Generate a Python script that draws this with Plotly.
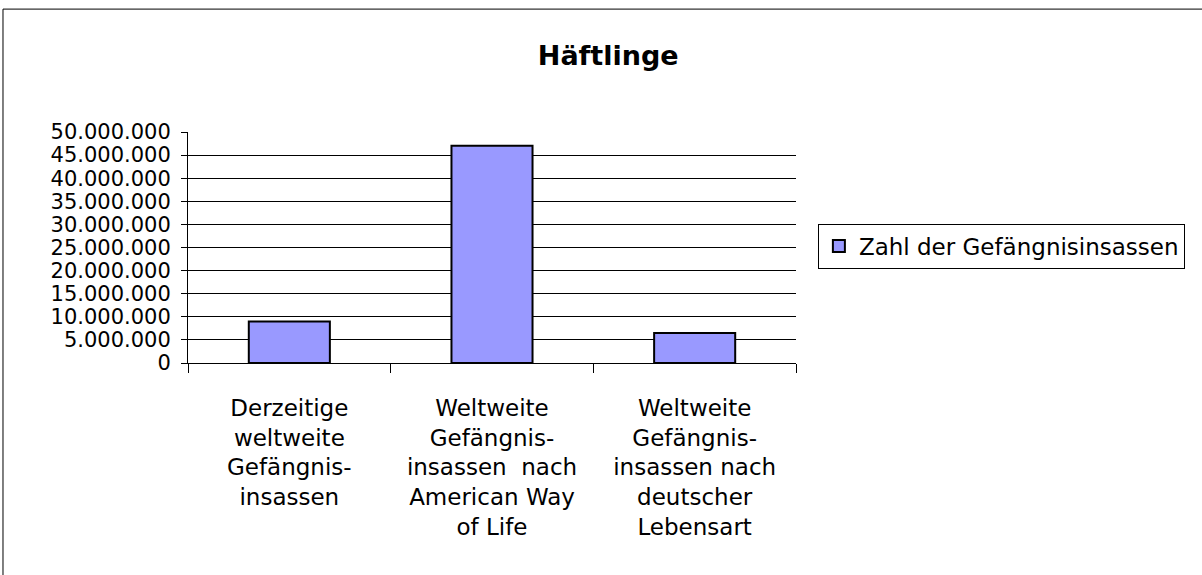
import plotly.graph_objects as go

# Data
categories = [
    "Derzeitige<br>weltweite<br>Gefängnis-<br>insassen",
    "Weltweite<br>Gefängnis-<br>insassen  nach<br>American Way<br>of Life",
    "Weltweite<br>Gefängnis-<br>insassen nach<br>deutscher<br>Lebensart",
]
prisoners = [9000000, 47000000, 6500000]
series_name = "Zahl der Gefängnisinsassen"
y_ticks = [0, 5000000, 10000000, 15000000, 20000000, 25000000,
           30000000, 35000000, 40000000, 45000000, 50000000]

font_family = "DejaVu Sans, Liberation Sans, Arial, sans-serif"

fig = go.Figure()

fig.add_trace(
    go.Bar(
        x=categories,
        y=prisoners,
        name=series_name,
        marker=dict(color="#9999FF", line=dict(color="black", width=2)),
        showlegend=True,
    )
)

fig.update_layout(
    title=dict(
        text="<b>Häftlinge</b>",
        font=dict(family=font_family, size=27, color="black"),
        xref="container",
        x=0.506,
        xanchor="center",
        yref="container",
        y=0.904,
        yanchor="middle",
    ),
    width=1202,
    height=575,
    margin=dict(l=188, r=406, t=132, b=212, pad=0),
    plot_bgcolor="white",
    paper_bgcolor="white",
    font=dict(family=font_family, size=23, color="black"),
    bargap=0.6,
    separators=",.",
    legend=dict(
        x=1.036,
        xanchor="left",
        y=0.506,
        yanchor="middle",
        bordercolor="black",
        borderwidth=1,
        bgcolor="white",
        font=dict(size=23),
        itemsizing="constant",
    ),
    # outer chart frame, open to the right and bottom
    shapes=[
        dict(
            type="rect",
            xref="paper",
            yref="paper",
            x0=-0.3043,
            x1=2.0,
            y0=-2.0,
            y1=1.532,
            line=dict(color="black", width=1),
            layer="below",
        )
    ],
)

fig.update_xaxes(
    showline=True,
    linecolor="black",
    linewidth=1,
    ticks="outside",
    tickson="boundaries",
    ticklen=9,
    tickcolor="black",
    ticklabelstandoff=24,
    showgrid=False,
    tickangle=0,
)

fig.update_yaxes(
    range=[0, 50000000],
    tickvals=y_ticks,
    tickformat=",d",
    tickfont=dict(size=21),
    showline=True,
    linecolor="black",
    linewidth=1,
    ticks="outside",
    ticklen=6,
    tickcolor="black",
    ticklabelstandoff=6,
    showgrid=True,
    gridcolor="black",
    gridwidth=1,
    zeroline=False,
)

# drop the browser's default 8px body margin so the figure sits at the corner
fig.write_html(
    "out.html",
    config={"displayModeBar": False},
    post_script="document.body.style.margin = '0px';",
)
